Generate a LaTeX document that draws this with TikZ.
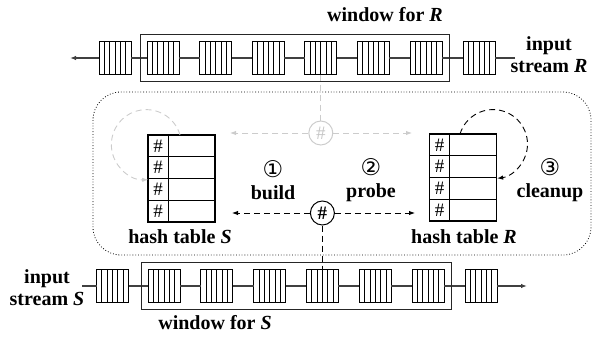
\documentclass[tikz,border=0pt]{standalone}
\usepackage{fontspec}
\setmainfont{Liberation Serif}
\newfontfamily\circfont{DejaVu Sans}
\usetikzlibrary{arrows.meta,calc,fit}

\tikzset{
  qblock/.style={draw, fill=white, line width=0.8pt, minimum width=32pt, minimum height=33pt,
    inner sep=0pt, outer sep=0pt,
    path picture={\foreach \k in {1,...,5}{
      \draw[line width=0.7pt] ([xshift=\k*32pt/6]path picture bounding box.south west)
        -- ([xshift=\k*32pt/6]path picture bounding box.north west);}}},
  qline/.style={line width=1.2pt, draw=black!75},
  wbox/.style={draw=black!85, line width=0.9pt, inner xsep=7pt, inner ysep=7pt},
  htable/.style={draw, line width=1.8pt, minimum width=67pt, minimum height=87pt,
    inner sep=0pt, outer sep=0pt},
  lbl/.style={font=\fontsize{20}{22}\selectfont\bfseries, align=center, inner sep=0pt},
  hnode/.style={circle, draw, line width=1pt, minimum size=24pt, inner sep=0pt,
    font=\fontsize{19}{20}\selectfont\bfseries},
  hgray/.style={hnode, draw=gray!40, text=gray!45, font=\fontsize{19}{20}\selectfont},
  blackdash/.style={line width=0.9pt, dash pattern=on 6pt off 4pt},
  graydash/.style={line width=0.9pt, draw=gray!40, dash pattern=on 6pt off 4pt},
  tip/.style={-{Latex[length=6pt,width=4.5pt]}}
}
\newcommand{\circnum}[1]{{\fontsize{23}{22}\selectfont\circfont\mdseries #1}}

\begin{document}
\begin{tikzpicture}[x=1pt,y=1pt]
\useasboundingbox (0,0) rectangle (592,-343);

% the two streams
\foreach \i/\x in {0/115,1/163,2/215.6,3/268.2,4/320.8,5/373.4,6/426,7/479}
  \node[qblock] (r\i) at (\x,-58) {};
\foreach \i/\x in {0/112.5,1/164,2/216.8,3/269.6,4/322.4,5/375.2,6/428,7/481}
  \node[qblock] (s\i) at (\x,-286) {};
\foreach \i [count=\j from 1] in {0,...,6}{
  \draw[qline] (r\i) -- (r\j);
  \draw[qline] (s\i) -- (s\j);
}
\coordinate (rin) at (515,-58);
\coordinate (rout) at (70,-58);
\coordinate (sin) at (82,-286);
\coordinate (sout) at (527,-286);
\draw[qline] (rin) -- (r7);
\draw[qline, tip] (r0) -- (rout);
\draw[qline] (sin) -- (s0);
\draw[qline, tip] (s7) -- (sout);

\node[wbox, fit=(r1)(r6)] (wR) {};
\node[wbox, fit=(s1)(s6)] (wS) {};
\node[lbl] (wRl) at (385,-15) {window for \textit{R}};
\node[lbl] (wSl) at (215,-323) {window for \textit{S}};
\node[lbl] (inR) at (549,-55) {input\\stream \textit{R}};
\node[lbl] (inS) at (47,-288) {input\\stream \textit{S}};

% join operator
\draw[dotted, line width=0.8pt, rounded corners=28pt] (93,-92) rectangle (591,-255);

\node[htable] (tS) at (181.5,-178.5) {};
\node[htable] (tR) at (463,-177.5) {};
\foreach \t in {tS,tR}{
  \draw[line width=0.9pt] ([xshift=20pt]\t.north west) -- ([xshift=20pt]\t.south west);
  \foreach \k in {1,2,3}
    \draw[line width=0.9pt] ($(\t.north west)!\k/4!(\t.south west)$)
      -- ($(\t.north east)!\k/4!(\t.south east)$);
  \foreach \k in {1,3,5,7}
    \node[font=\fontsize{19}{20}\selectfont, inner sep=0pt]
      at ($(\t.north west)!\k/8!(\t.south west)+(10pt,0)$) {\#};
}
\node[lbl] (hS) at (180,-237) {hash table \textit{S}};
\node[lbl] (hR) at (464,-237) {hash table \textit{R}};

\node[hgray] (hg) at (r4 |- 0,-133) {\#};
\node[hnode] (hb) at (s4 |- 0,-213) {\#};
\coordinate (gl) at (230,-133);
\coordinate (gr) at (412,-133);
\coordinate (bl) at (232,-213);
\coordinate (br) at (415,-213);

\draw[graydash] (r4.south) -- (hg);
\draw[graydash, tip] (hg) -- (gl);
\draw[graydash, tip] (hg) -- (gr);
\draw[blackdash] (hb) -- (s4.north);
\draw[blackdash, tip] (hb) -- (bl);
\draw[blackdash, tip] (hb) -- (br);

\draw[graydash, tip] ([xshift=32pt]tS.north west) arc[start angle=16, end angle=273, radius=35pt];
\draw[blackdash, tip] ([xshift=30.5pt]tR.north west) arc[start angle=163, end angle=-83, radius=34.5pt];

\node[lbl] (build) at (273,-180) {\circnum{①}\\build};
\node[lbl] (probe) at (371,-180) {\circnum{②}\\probe};
\node[lbl] (clean) at (550,-180) {\circnum{③}\\cleanup};
\end{tikzpicture}
\end{document}
